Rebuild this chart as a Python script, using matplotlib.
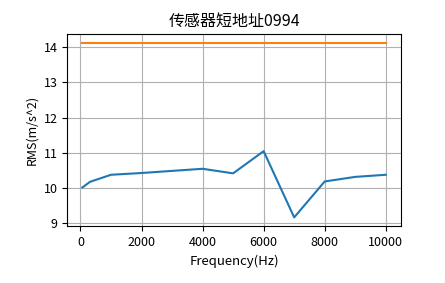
import matplotlib
matplotlib.use('Agg')
import matplotlib.pyplot as plt

plt.rcParams['font.family'] = ['Noto Sans CJK SC', 'DejaVu Sans']
plt.rcParams['axes.unicode_minus'] = False

# data
freq = [63, 315, 1000, 2000, 4000, 5000, 6000, 7000, 8000, 9000, 10000]
rms = [10.02, 10.18, 10.38, 10.43, 10.55, 10.42, 11.05, 9.17, 10.19, 10.32, 10.38]
limit = [14.13] * len(freq)

fig = plt.figure(figsize=(4.45, 2.83), dpi=100)
ax = fig.add_axes([0.151, 0.201, 0.75, 0.679])

ax.plot(freq, rms)
ax.plot(freq, limit)
ax.set_title('传感器短地址0994', fontsize=11.5)
ax.set_xlabel('Frequency(Hz)', fontsize=9.5)
ax.set_ylabel('RMS(m/s^2)', fontsize=9)
ax.tick_params(labelsize=9)
ax.set_yticks([9, 10, 11, 12, 13, 14])
ax.grid(True)

fig.savefig('out.png', dpi=100)
